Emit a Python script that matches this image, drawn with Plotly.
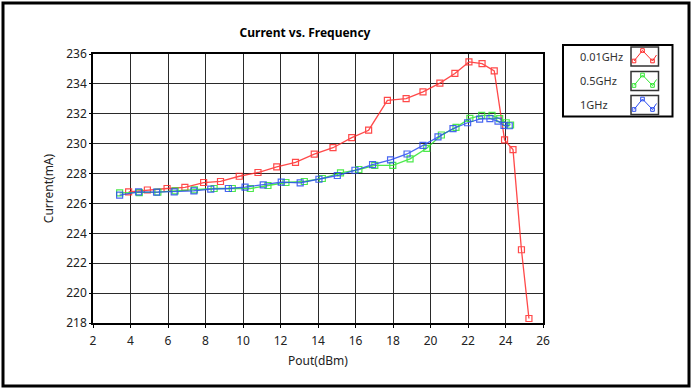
import plotly.graph_objects as go

# Output power (dBm) and supply current (mA) for each test frequency
pout_001 = [3.9, 4.9, 5.95, 6.9, 7.9, 8.8, 9.8, 10.8, 11.8, 12.8, 13.8, 14.8, 15.8,
            16.7, 17.7, 18.7, 19.6, 20.5, 21.3, 22.05, 22.75, 23.4, 23.95, 24.4, 24.85, 25.25]
curr_001 = [226.78, 226.9, 227.0, 227.07, 227.4, 227.47, 227.82, 228.07, 228.45, 228.75,
            229.3, 229.73, 230.4, 230.9, 232.9, 233.02, 233.47, 234.05, 234.7, 235.47,
            235.35, 234.87, 230.25, 229.6, 222.9, 218.3]

pout_05 = [3.42, 4.47, 5.46, 6.38, 7.41, 8.46, 9.43, 10.39, 11.33, 12.29, 13.27, 14.23, 15.2,
           16.18, 17.03, 17.99, 18.91, 19.8, 20.58, 21.36, 22.1, 22.73, 23.28, 23.69, 24.04, 24.27]
curr_05 = [226.71, 226.73, 226.76, 226.84, 226.91, 227.0, 227.0, 227.0, 227.2, 227.4, 227.47,
           227.67, 228.04, 228.27, 228.55, 228.55, 228.98, 229.69, 230.58, 231.09, 231.69,
           231.89, 231.89, 231.67, 231.4, 231.25]

pout_1 = [3.42, 4.43, 5.39, 6.33, 7.38, 8.28, 9.22, 10.11, 11.08, 12.04, 13.05, 14.05, 15.03,
          15.97, 16.91, 17.87, 18.75, 19.6, 20.4, 21.2, 21.98, 22.62, 23.17, 23.6, 23.92, 24.2]
curr_1 = [226.55, 226.78, 226.76, 226.78, 226.84, 226.96, 227.0, 227.09, 227.24, 227.42,
          227.38, 227.62, 227.87, 228.22, 228.6, 228.91, 229.31, 229.89, 230.45, 231.0,
          231.4, 231.64, 231.67, 231.51, 231.22, 231.2]

series_names = ["0.01GHz", "0.5GHz", "1GHz"]
series_colors = ["#ff2a2a", "#2ee62e", "#2a4cf0"]

W, H = 692, 389
ML, MR, MT, MB = 93, 149, 54, 66
PW, PH = W - ML - MR, H - MT - MB
FONT = "Noto Sans"


def px(x):
    return (x - ML) / PW


def py(y):
    return (H - MB - y) / PH


fig = go.Figure()
for xs, ys, name, col in zip([pout_001, pout_05, pout_1],
                             [curr_001, curr_05, curr_1],
                             series_names, series_colors):
    fig.add_trace(go.Scatter(
        x=xs, y=ys, name=name, mode="lines+markers",
        line=dict(color=col, width=1.3),
        marker=dict(symbol="square-open", size=6, color=col, line=dict(width=1.2, color=col)),
        opacity=0.85, showlegend=False,
    ))

shapes = []
annotations = []

# outer frame
shapes.append(dict(type="rect", xref="paper", yref="paper",
                   x0=px(3), x1=px(689), y0=py(3), y1=py(386),
                   line=dict(color="black", width=3), layer="above"))

# custom legend box
shapes.append(dict(type="rect", xref="paper", yref="paper",
                   x0=px(563), x1=px(672.5), y0=py(45), y1=py(116.5),
                   line=dict(color="black", width=2)))
icon_tops = [47, 71.5, 95.5]
label_centers = [56, 80.7, 104]
for i, (name, col) in enumerate(zip(series_names, series_colors)):
    top = icon_tops[i]
    bx0, bx1, by0, by1 = 631, 658.5, top, top + 19
    shapes.append(dict(type="rect", xref="paper", yref="paper",
                       x0=px(bx0), x1=px(bx1), y0=py(by0), y1=py(by1),
                       line=dict(color="#333", width=1.5)))
    zig = [(634, top + 14), (642.5, top + 3.5), (652.5, top + 14), (656.5, top + 8)]
    path = "M " + " L ".join(f"{px(a)},{py(b)}" for a, b in zig)
    shapes.append(dict(type="path", xref="paper", yref="paper", path=path,
                       line=dict(color=col, width=1)))
    for a, b in zig[:3]:
        shapes.append(dict(type="rect", xref="paper", yref="paper",
                           x0=px(a - 1.8), x1=px(a + 1.8), y0=py(b - 1.8), y1=py(b + 1.8),
                           line=dict(color=col, width=1)))
    annotations.append(dict(xref="paper", yref="paper", x=px(577.5), y=py(label_centers[i]),
                            text=name, showarrow=False, xanchor="left", yanchor="middle",
                            font=dict(family=FONT, size=11, color="#333")))

fig.update_layout(
    width=W, height=H,
    margin=dict(l=ML, r=MR, t=MT, b=MB),
    paper_bgcolor="white", plot_bgcolor="white",
    title=dict(text="<b>Current vs. Frequency</b>", xref="container", x=305 / W,
               xanchor="center", y=1 - 33 / H, yanchor="middle",
               font=dict(family=FONT, size=12, color="black")),
    font=dict(family=FONT, size=12, color="#222"),
    xaxis=dict(range=[2, 26], dtick=2, tick0=2, showgrid=True, gridcolor="#2a2a2a",
               gridwidth=1, zeroline=False, showline=True, linecolor="black", linewidth=1.5,
               mirror=True, ticks="outside", ticklen=3, tickcolor="black",
               ticklabelstandoff=3,
               title=dict(text="Pout(dBm)", standoff=8, font=dict(size=12))),
    yaxis=dict(range=[218, 236], dtick=2, tick0=218, showgrid=True, gridcolor="#2a2a2a",
               gridwidth=1, zeroline=False, showline=True, linecolor="black", linewidth=1.5,
               mirror=True, ticks="outside", ticklen=2, tickcolor="black",
               title=dict(text="Current(mA)", standoff=10, font=dict(size=12))),
    shapes=shapes,
    annotations=annotations,
)

fig.write_html("out.html")
